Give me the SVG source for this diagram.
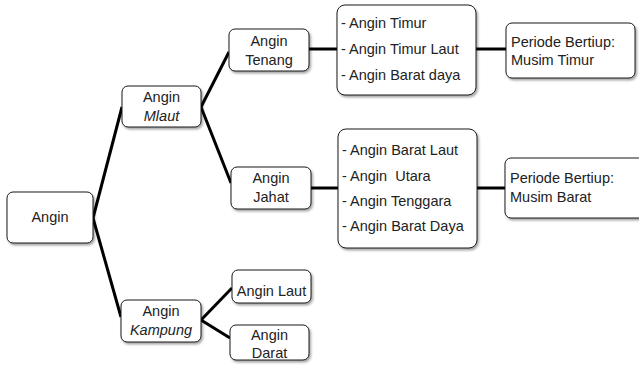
<svg xmlns="http://www.w3.org/2000/svg" width="639" height="368" viewBox="0 0 639 368">
  <style>
    .box { fill: #ffffff; stroke: #1a1a1a; stroke-width: 1; filter: url(#shadow); }
    .t { font-family: "Liberation Sans", Arial, sans-serif; font-size: 14.5px; fill: #222222; white-space: pre; }
    .c { text-anchor: middle; }
    .i { font-style: italic; }
    .link { stroke: #000000; stroke-width: 3; fill: none; }
  </style>
  <defs>
    <filter id="shadow" x="-10%" y="-10%" width="130%" height="140%">
      <feDropShadow dx="1.5" dy="2" stdDeviation="1" flood-color="#000000" flood-opacity="0.35"/>
    </filter>
  </defs>
  <rect width="639" height="368" fill="#ffffff"/>

  <g id="connectors">
    <path class="link" d="M93,218 L122,107"/>
    <path class="link" d="M93,218 L121,317"/>
    <path class="link" d="M201,107 L229,52"/>
    <path class="link" d="M201,107 L231,183"/>
    <path class="link" d="M309,49 L337,49"/>
    <path class="link" d="M476,49 L506,49"/>
    <path class="link" d="M311,188 L338,188"/>
    <path class="link" d="M477,188 L505,188"/>
    <path class="link" d="M201,320 L232,288"/>
    <path class="link" d="M201,320 L230,338"/>
  </g>

  <g id="angin">
    <rect class="box" x="7" y="192" width="86" height="51" rx="6"/>
    <text class="t c" x="50" y="222">Angin</text>
  </g>

  <g id="angin-mlaut">
    <rect class="box" x="122" y="86" width="79" height="41" rx="6"/>
    <text class="t c" x="161.5" y="102">Angin</text>
    <text class="t c i" x="161.5" y="121">Mlaut</text>
  </g>

  <g id="angin-kampung">
    <rect class="box" x="121" y="300" width="80" height="42" rx="6"/>
    <text class="t c" x="161" y="316">Angin</text>
    <text class="t c i" x="161" y="335">Kampung</text>
  </g>

  <g id="angin-tenang">
    <rect class="box" x="229" y="29" width="80" height="42" rx="6"/>
    <text class="t c" x="269" y="46">Angin</text>
    <text class="t c" x="269" y="65">Tenang</text>
  </g>

  <g id="angin-jahat">
    <rect class="box" x="231" y="167" width="80" height="42" rx="6"/>
    <text class="t c" x="271" y="183">Angin</text>
    <text class="t c" x="271" y="202">Jahat</text>
  </g>

  <g id="angin-laut">
    <rect class="box" x="232" y="270" width="79" height="33" rx="6"/>
    <text class="t c" x="271.5" y="296">Angin Laut</text>
  </g>

  <g id="angin-darat">
    <rect class="box" x="230" y="325" width="79" height="35" rx="6"/>
    <text class="t c" x="269.5" y="340">Angin</text>
    <text class="t c" x="269.5" y="358">Darat</text>
  </g>

  <g id="daftar-timur">
    <rect class="box" x="337" y="5" width="139" height="90" rx="8"/>
    <text class="t" x="341" y="28">- Angin Timur</text>
    <text class="t" x="341" y="54">- Angin Timur Laut</text>
    <text class="t" x="341" y="80">- Angin Barat daya</text>
  </g>

  <g id="daftar-barat">
    <rect class="box" x="338" y="129" width="139" height="119" rx="8"/>
    <text class="t" x="342" y="155">- Angin Barat Laut</text>
    <text class="t" x="342" y="181" xml:space="preserve">- Angin  Utara</text>
    <text class="t" x="342" y="206">- Angin Tenggara</text>
    <text class="t" x="342" y="231">- Angin Barat Daya</text>
  </g>

  <g id="periode-timur">
    <rect class="box" x="506" y="23" width="129" height="55" rx="6"/>
    <text class="t" x="511" y="47">Periode Bertiup:</text>
    <text class="t" x="511" y="65">Musim Timur</text>
  </g>

  <g id="periode-barat">
    <rect class="box" x="505" y="158" width="142" height="60" rx="6"/>
    <text class="t" x="510" y="183">Periode Bertiup:</text>
    <text class="t" x="510" y="202">Musim Barat</text>
  </g>
</svg>
